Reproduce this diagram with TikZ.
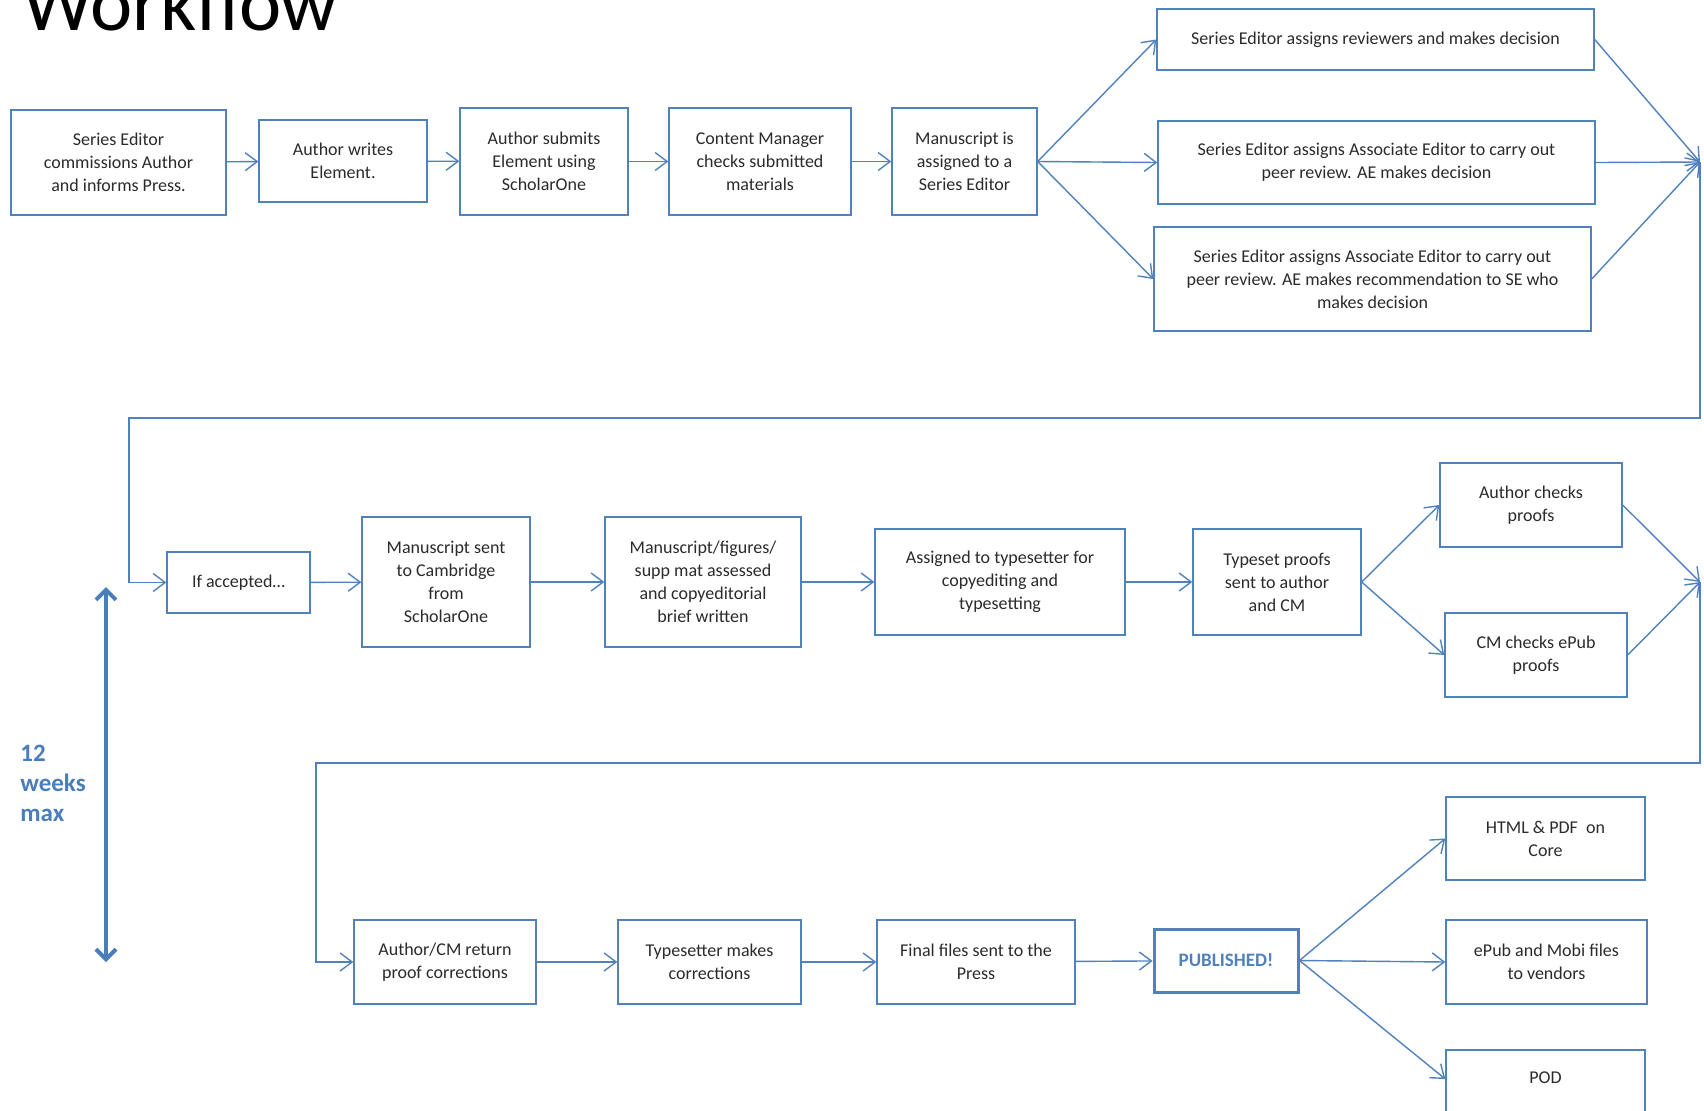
\documentclass[tikz,border=0pt]{standalone}
\usepackage{fontspec}
\setmainfont{Carlito}
\usetikzlibrary{arrows.meta}
\definecolor{flowblue}{HTML}{4F81BD}
\definecolor{weekblue}{HTML}{4A7EBB}
\definecolor{boxtext}{HTML}{2B2B2B}

\begin{document}
\begin{tikzpicture}[x=0.5pt, y=-0.5pt,
    box/.style={draw=flowblue, line width=0.7pt, fill=white, text=boxtext, align=center,
      inner sep=0pt, font=\fontsize{9}{11.5}\selectfont},
    sz/.style 2 args={minimum width=#1pt, minimum height=#2pt},
    conn/.style={draw=flowblue, line width=0.7pt, -{Straight Barb[length=6pt,width=9pt]}},
    span/.style={weekblue, line width=2pt,
      {Straight Barb[length=5pt,width=10pt]}-{Straight Barb[length=5pt,width=10pt]}}]
    \useasboundingbox (0,0) rectangle (1704,1110);
    \clip (0,0) rectangle (1704,1110);
    \node[anchor=base west, inner sep=0pt, font=\fontsize{40}{48}\selectfont] (title) at (22,30) {Workflow};

    % first row
    \node[box, sz={107.5}{52.5}] (A1) at (118.5,162.5) {Series Editor\\commissions Author\\and informs Press.};
    \node[box, sz={84}{41}] (A2) at (343,161) {Author writes\\Element.};
    \node[box, sz={84}{53.5}] (A3) at (544,161.5) {Author submits\\Element using\\ScholarOne};
    \node[box, sz={91}{53.5}] (A4) at (760,161.5) {Content Manager\\checks submitted\\materials};
    \node[box, sz={72.5}{53.5}] (A5) at (964.5,161.5) {Manuscript is\\assigned to a\\Series Editor};
    \node[box, sz={218.5}{30.5}] (B1) at (1375.5,39.5) {Series Editor assigns reviewers and makes decision};
    \node[box, sz={218.5}{41.5}] (B2) at (1376.5,162.5) {Series Editor assigns Associate Editor to carry out\\peer review. AE makes decision};
    \node[box, sz={218.5}{52}] (B3) at (1372.5,279) {Series Editor assigns Associate Editor to carry out\\peer review. AE makes recommendation to SE who\\makes decision};
    \coordinate (r1) at (1700,162);
    \coordinate (t1) at (129,418);

    % second row
    \node[box, sz={71.5}{30.5}] (C1) at (238.5,582.5) {If accepted\ldots};
    \node[box, sz={84}{65}] (C2) at (446,582) {Manuscript sent\\to Cambridge\\from\\ScholarOne};
    \node[box, sz={98}{65}] (C3) at (703,582) {Manuscript/figures/\\supp mat assessed\\and copyeditorial\\brief written};
    \node[box, sz={125}{53}] (C4) at (1000,582) {Assigned to typesetter for\\copyediting and\\typesetting};
    \node[box, sz={84}{53}] (C5) at (1277,582) {Typeset proofs\\sent to author\\and CM};
    \node[box, sz={91}{42}] (D1) at (1531,505) {Author checks\\proofs};
    \node[box, sz={91}{42}] (D2) at (1536,655) {CM checks ePub\\proofs};
    \coordinate (r2) at (1700,582);
    \coordinate (t2) at (316,763);

    % third row
    \node[box, sz={91}{42}] (E1) at (445,962) {Author/CM return\\proof corrections};
    \node[box, sz={91.5}{42}] (E2) at (709.5,962) {Typesetter makes\\corrections};
    \node[box, sz={99}{42}] (E3) at (976,962) {Final files sent to the\\Press};
    \node[box, sz={72}{31.5}, line width=1.5pt, text=flowblue, font=\fontsize{9.5}{11.5}\selectfont\bfseries] (E4) at (1226,960.5) {PUBLISHED!};
    \node[box, sz={99.5}{41.5}] (F1) at (1545.5,838.5) {HTML \& PDF~ on\\Core};
    \node[box, sz={100.5}{42}] (F2) at (1546.5,962) {ePub and Mobi files\\to vendors};
    \node[box, sz={99.5}{42}, text depth=14pt] (F3) at (1545.5,1092) {POD};

    \draw[conn] (A1) -- (A2);
    \draw[conn] (A2) -- (A3);
    \draw[conn] (A3) -- (A4);
    \draw[conn] (A4) -- (A5);
    \draw[conn] (A5.east) -- (B1.west);
    \draw[conn] (A5.east) -- (B2.west);
    \draw[conn] (A5.east) -- (B3.west);
    \draw[conn] (B1.east) -- (r1);
    \draw[conn] (B2.east) -- (r1);
    \draw[conn] (B3.east) -- (r1);
    \draw[conn] (r1) |- (t1) |- (C1.west);

    \draw[conn] (C1) -- (C2);
    \draw[conn] (C2) -- (C3);
    \draw[conn] (C3) -- (C4);
    \draw[conn] (C4) -- (C5);
    \draw[conn] (C5.east) -- (D1.west);
    \draw[conn] (C5.east) -- (D2.west);
    \draw[conn] (D1.east) -- (r2);
    \draw[conn] (D2.east) -- (r2);
    \draw[conn] (r2) |- (t2) |- (E1.west);

    \draw[conn] (E1) -- (E2);
    \draw[conn] (E2) -- (E3);
    \draw[conn] (E3) -- (E4);
    \draw[conn] (E4.east) -- (F1.west);
    \draw[conn] (E4.east) -- (F2.west);
    \draw[conn] (E4.east) -- ([yshift=6.5pt]F3.west);

    % time span
    \coordinate (wtop) at (106,587);
    \coordinate (wbot) at (106,962);
    \draw[span] (wtop) -- (wbot);
    \node[anchor=north west, align=left, inner sep=0pt, text=weekblue,
      font=\fontsize{12.5}{15}\selectfont\bfseries] (weeks) at (20,745) {12\\weeks\\max};
\end{tikzpicture}
\end{document}
